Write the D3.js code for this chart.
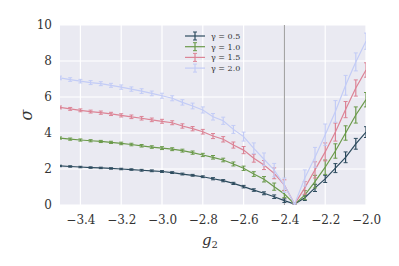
<!DOCTYPE html>
<html>
<head>
<meta charset="utf-8">
<script src="https://cdn.jsdelivr.net/npm/d3@7"></script>
<style>
  body { margin: 0; background: #fff; }
  text { font-family: "DejaVu Serif", "Liberation Serif", serif; }
</style>
</head>
<body>
<script>
var g2 = [-3.5, -3.45, -3.4, -3.35, -3.3, -3.25, -3.2, -3.15, -3.1, -3.05, -3.0,
          -2.95, -2.9, -2.85, -2.8, -2.75, -2.7, -2.65, -2.6, -2.55, -2.5, -2.45, -2.4,
          -2.35, -2.3, -2.25, -2.2, -2.15, -2.1, -2.05, -2.0];

var gammas = ["0.5", "1.0", "1.5", "2.0"];
var colors = ["#2d4b5e", "#6b9a4b", "#dc8496", "#c3ccf6"];

var sigma05 = [2.17, 2.14, 2.11, 2.08, 2.06, 2.03, 2.0, 1.97, 1.93, 1.9, 1.86,
               1.8, 1.72, 1.65, 1.57, 1.46, 1.35, 1.2, 1.02, 0.83, 0.65, 0.46, 0.24,
               0.05, 0.4, 0.95, 1.45, 2.05, 2.65, 3.4, 4.05];
var sigma10 = [3.72, 3.66, 3.61, 3.57, 3.53, 3.48, 3.42, 3.36, 3.29, 3.22, 3.16,
               3.1, 3.02, 2.91, 2.78, 2.65, 2.5, 2.28, 2.04, 1.72, 1.43, 1.02, 0.61,
               0.05, 0.55, 1.3, 2.1, 3.0, 4.0, 5.0, 5.85];
var sigma15 = [5.42, 5.34, 5.26, 5.19, 5.13, 5.06, 4.98, 4.9, 4.82, 4.73, 4.65,
               4.57, 4.39, 4.24, 4.07, 3.83, 3.65, 3.33, 3.05, 2.6, 2.22, 1.76, 1.1,
               0.05, 0.95, 1.95, 2.95, 4.05, 5.3, 6.5, 7.5];
var sigma20 = [7.06, 6.97, 6.88, 6.8, 6.74, 6.65, 6.55, 6.44, 6.33, 6.2, 6.07,
               5.93, 5.7, 5.5, 5.28, 4.9, 4.68, 4.2, 3.8, 3.15, 2.54, 1.94, 1.1,
               0.05, 1.5, 2.65, 3.9, 5.2, 6.65, 7.95, 9.1];

var err05 = [0.04, 0.04, 0.04, 0.04, 0.04, 0.04, 0.04, 0.04, 0.05, 0.05, 0.05,
             0.05, 0.05, 0.05, 0.05, 0.06, 0.06, 0.06, 0.07, 0.07, 0.08, 0.1, 0.1,
             0.05, 0.15, 0.2, 0.2, 0.25, 0.3, 0.3, 0.3];
var err10 = [0.06, 0.06, 0.06, 0.06, 0.06, 0.06, 0.07, 0.07, 0.07, 0.07, 0.08,
             0.08, 0.08, 0.09, 0.09, 0.1, 0.1, 0.11, 0.12, 0.13, 0.15, 0.2, 0.2,
             0.05, 0.25, 0.35, 0.4, 0.4, 0.4, 0.45, 0.4];
var err15 = [0.08, 0.08, 0.08, 0.08, 0.09, 0.09, 0.09, 0.1, 0.1, 0.1, 0.11,
             0.11, 0.12, 0.12, 0.13, 0.14, 0.15, 0.17, 0.2, 0.22, 0.25, 0.3, 0.3,
             0.05, 0.35, 0.45, 0.5, 0.5, 0.45, 0.45, 0.4];
var err20 = [0.1, 0.1, 0.1, 0.11, 0.11, 0.11, 0.12, 0.12, 0.13, 0.13, 0.14,
             0.14, 0.15, 0.16, 0.17, 0.18, 0.2, 0.22, 0.25, 0.3, 0.35, 0.37, 0.4,
             0.05, 0.45, 0.55, 0.6, 0.6, 0.55, 0.5, 0.45];

var series = [sigma05, sigma10, sigma15, sigma20];
var errors = [err05, err10, err15, err20];

var xTicks = [-3.4, -3.2, -3.0, -2.8, -2.6, -2.4, -2.2, -2.0];
var yTicks = [0, 2, 4, 6, 8, 10];
var gc = -2.4;

d3.select("body").append("svg")
  .attr("width", 399)
  .attr("height", 266);

var svg = d3.select("svg");

var margin = { top: 25, right: 33, bottom: 61, left: 60 };
var width = 399 - margin.left - margin.right;
var height = 266 - margin.top - margin.bottom;

var xScale = d3.scaleLinear().domain([-3.5, -2.0]).range([0, width]);
var yScale = d3.scaleLinear().domain([0, 10]).range([height, 0]);

var g = svg.append("g")
  .attr("transform", "translate(" + margin.left + "," + margin.top + ")");

g.append("rect")
  .attr("width", width)
  .attr("height", height)
  .attr("fill", "#eaeaf2");

svg.append("clipPath").attr("id", "clip")
  .append("rect").attr("width", width).attr("height", height);

// grid
g.selectAll(".vgrid").data(xTicks).enter().append("line")
  .attr("x1", d => xScale(d)).attr("x2", d => xScale(d))
  .attr("y1", 0).attr("y2", height)
  .attr("stroke", "#fff").attr("stroke-width", 1.2);

g.selectAll(".hgrid").data(yTicks).enter().append("line")
  .attr("x1", 0).attr("x2", width)
  .attr("y1", d => yScale(d)).attr("y2", d => yScale(d))
  .attr("stroke", "#fff").attr("stroke-width", 1.2);

// axes (labels only)
var fmt = d => d3.format(".1f")(d).replace("-", "\u2212");

var xAxis = g.append("g")
  .attr("transform", "translate(0," + height + ")")
  .call(d3.axisBottom(xScale).tickValues(xTicks).tickFormat(fmt).tickSize(0).tickPadding(10));
var yAxis = g.append("g")
  .call(d3.axisLeft(yScale).tickValues(yTicks).tickFormat(d3.format("d")).tickSize(0).tickPadding(8));

[xAxis, yAxis].forEach(function (a) {
  a.select(".domain").remove();
  a.selectAll("text").attr("fill", "#333").style("font-size", "12px")
    .style("font-family", "'DejaVu Serif', serif");
});

// critical line
g.append("line")
  .attr("x1", xScale(gc)).attr("x2", xScale(gc))
  .attr("y1", 0).attr("y2", height)
  .attr("stroke", "#9a9a9a").attr("stroke-width", 1);

var plot = g.append("g").attr("clip-path", "url(#clip)");

var line = d3.line()
  .x((d, i) => xScale(g2[i]))
  .y(d => yScale(d));

series.forEach(function (vals, k) {
  var s = plot.append("g");
  s.append("path")
    .datum(vals)
    .attr("fill", "none")
    .attr("stroke", colors[k])
    .attr("stroke-width", 1.2)
    .attr("d", line);

  var bars = s.selectAll(".bar").data(vals).enter().append("g");
  bars.append("line")
    .attr("x1", (d, i) => xScale(g2[i])).attr("x2", (d, i) => xScale(g2[i]))
    .attr("y1", (d, i) => yScale(d - errors[k][i]))
    .attr("y2", (d, i) => yScale(d + errors[k][i]))
    .attr("stroke", colors[k]).attr("stroke-width", 1.2);
  bars.append("line")
    .attr("x1", (d, i) => xScale(g2[i]) - 2).attr("x2", (d, i) => xScale(g2[i]) + 2)
    .attr("y1", (d, i) => yScale(d - errors[k][i]))
    .attr("y2", (d, i) => yScale(d - errors[k][i]))
    .attr("stroke", colors[k]).attr("stroke-width", 1);
  bars.append("line")
    .attr("x1", (d, i) => xScale(g2[i]) - 2).attr("x2", (d, i) => xScale(g2[i]) + 2)
    .attr("y1", (d, i) => yScale(d + errors[k][i]))
    .attr("y2", (d, i) => yScale(d + errors[k][i]))
    .attr("stroke", colors[k]).attr("stroke-width", 1);
});

// legend
var legend = g.append("g").attr("transform", "translate(125,11)");
gammas.forEach(function (gm, k) {
  var row = legend.append("g").attr("transform", "translate(0," + (k * 10.7) + ")");
  row.append("line").attr("x1", 0).attr("x2", 20).attr("y1", 0).attr("y2", 0)
    .attr("stroke", colors[k]).attr("stroke-width", 1.2);
  row.append("line").attr("x1", 10).attr("x2", 10).attr("y1", -4).attr("y2", 4)
    .attr("stroke", colors[k]).attr("stroke-width", 1.2);
  row.append("line").attr("x1", 8).attr("x2", 12).attr("y1", -4).attr("y2", -4)
    .attr("stroke", colors[k]).attr("stroke-width", 1);
  row.append("line").attr("x1", 8).attr("x2", 12).attr("y1", 4).attr("y2", 4)
    .attr("stroke", colors[k]).attr("stroke-width", 1);
  row.append("text").attr("x", 26).attr("y", 3)
    .attr("fill", "#333").style("font-size", "8px")
    .text("\u03b3 = " + gm);
});

// axis labels
svg.append("text")
  .attr("x", margin.left + width / 2 - 3)
  .attr("y", 245)
  .attr("text-anchor", "middle")
  .attr("fill", "#333")
  .style("font-size", "15px")
  .style("font-style", "italic")
  .html("g<tspan dy='3' font-size='10px' font-style='normal'>2</tspan>");

svg.append("text")
  .attr("transform", "translate(32," + (margin.top + height / 2) + ") rotate(-90)")
  .attr("text-anchor", "middle")
  .attr("fill", "#333")
  .style("font-size", "16px")
  .style("font-style", "italic")
  .text("\u03c3");
</script>
</body>
</html>
